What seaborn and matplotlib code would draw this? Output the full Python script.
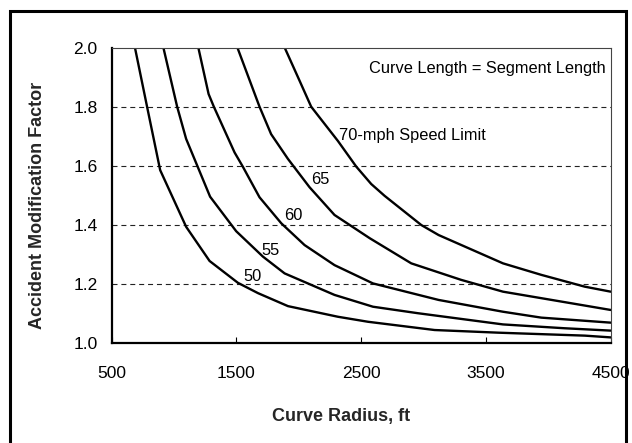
import matplotlib
matplotlib.use("Agg")
import matplotlib.pyplot as plt
import seaborn as sns
import pandas as pd
from matplotlib.patches import Rectangle

# ---- data ----
speed_limits = ["50", "55", "60", "65", "70"]

r50 = [689, 785, 890, 1098, 1286, 1513, 1674, 1914, 2314, 2555, 3089, 3600, 4292, 4500]
a50 = [2.0, 1.802, 1.587, 1.395, 1.279, 1.205, 1.170, 1.126, 1.090, 1.073, 1.045, 1.036, 1.026, 1.020]

r55 = [917, 1026, 1098, 1290, 1499, 1713, 1887, 2287, 2595, 2955, 3637, 4131, 4500]
a55 = [2.0, 1.802, 1.693, 1.497, 1.380, 1.294, 1.237, 1.164, 1.124, 1.102, 1.064, 1.051, 1.043]

r60 = [1197, 1278, 1320, 1486, 1552, 1686, 1860, 2047, 2287, 2595, 3121, 3637, 3944, 4500]
a60 = [2.0, 1.845, 1.802, 1.647, 1.599, 1.495, 1.407, 1.333, 1.265, 1.203, 1.147, 1.107, 1.087, 1.070]

r65 = [1511, 1686, 1779, 1914, 2087, 2287, 2570, 2902, 3302, 3637, 4264, 4500]
a65 = [2.0, 1.802, 1.709, 1.625, 1.529, 1.435, 1.356, 1.271, 1.215, 1.175, 1.130, 1.113]

r70 = [1890, 2007, 2100, 2314, 2461, 2581, 2688, 2982, 3121, 3637, 3944, 4292, 4500]
a70 = [2.0, 1.890, 1.802, 1.686, 1.599, 1.540, 1.500, 1.401, 1.367, 1.271, 1.232, 1.192, 1.175]

x_ticks = [500, 1500, 2500, 3500, 4500]
y_ticks = [1.0, 1.2, 1.4, 1.6, 1.8, 2.0]

curve_labels = ["50", "55", "60", "65", "70-mph Speed Limit"]
label_x = [1553, 1705, 1886, 2100, 2320]
label_y = [1.228, 1.316, 1.433, 1.555, 1.705]

# ---- build long table ----
frames = []
for name, r, a in zip(speed_limits, [r50, r55, r60, r65, r70], [a50, a55, a60, a65, a70]):
    frames.append(pd.DataFrame({"radius": r, "amf": a, "speed": name}))
df = pd.concat(frames, ignore_index=True)

sns.set_style("white")
plt.rcParams["font.family"] = ["Liberation Sans", "DejaVu Sans"]

W, H = 632, 443
fig = plt.figure(figsize=(W / 100, H / 100), dpi=100)
ax = fig.add_axes([111.5 / W, 1 - 343.3 / H, (610.7 - 111.5) / W, (343.3 - 48.3) / H])

sns.lineplot(data=df, x="radius", y="amf", hue="speed", units="speed", estimator=None,
             sort=False, palette=["black"] * 5, linewidth=1.7, legend=False, ax=ax)

ax.set_xlim(500, 4500)
ax.set_ylim(1.0, 2.0)
ax.set_xticks(x_ticks)
ax.set_xticklabels([str(v) for v in x_ticks])
ax.set_yticks(y_ticks)
ax.set_yticklabels([f"{v:.1f}" for v in y_ticks])

for yv in y_ticks[1:-1]:
    ax.axhline(yv, color="#222222", linestyle=(0, (4.5, 3.5)), linewidth=0.8, zorder=0)

ax.tick_params(axis="x", direction="in", length=4, width=0.8, pad=16, labelsize=12.5, colors="black")
ax.tick_params(axis="y", length=0, pad=10, labelsize=12.5, colors="black")
ax.xaxis.set_ticks_position("bottom")

for side in ["left", "bottom"]:
    ax.spines[side].set_color("black")
    ax.spines[side].set_linewidth(1.6)
for side in ["top", "right"]:
    ax.spines[side].set_color("#444444")
    ax.spines[side].set_linewidth(0.8)

ax.set_xlabel("")
ax.set_ylabel("")
fig.text(341 / W, 1 - 416 / H, "Curve Radius, ft", fontsize=13, fontweight="bold",
         ha="center", va="center")
fig.text(38 / W, 1 - 205 / H, "Accident Modification Factor", fontsize=13, fontweight="bold",
         ha="center", va="center", rotation=90)

for t, xv, yv in zip(curve_labels, label_x, label_y):
    ax.text(xv, yv, t, fontsize=11.8, ha="left", va="center", color="black")

ax.text(4460, 1.93, "Curve Length = Segment Length", fontsize=11.8, ha="right", va="center", color="black")

# figure border (open at bottom, as in reference)
fig.add_artist(Rectangle((9.5 / W, -0.05), (626 - 9.5) / W, 1.05 - 11 / H,
                         transform=fig.transFigure, fill=False, edgecolor="black", linewidth=2.2))

fig.savefig("out.png", dpi=100)
